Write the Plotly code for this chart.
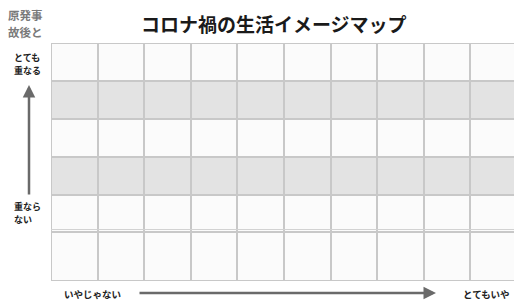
import numpy as np
import plotly.graph_objects as go

# ---- data ----
title_text = "コロナ禍の生活イメージマップ"
corner_label = ["原発事", "故後と"]
y_top_label = ["とても", "重なる"]
y_bottom_label = ["重なら", "ない"]
x_left_label = "いやじゃない"
x_right_label = "とてもいや"

n_columns = 10
# rows listed top to bottom: 1 = grey band, 0 = white
row_shade = [0, 1, 0, 1, 0, 0]
row_heights = [1, 1, 1, 1, 1, 1.28]

# ---- build heatmap grid ----
shade_bottom_up = row_shade[::-1]
heights_bottom_up = row_heights[::-1]
y_edges = np.concatenate([[0], np.cumsum(heights_bottom_up)])
x_edges = np.arange(n_columns + 1)
z = [[s] * n_columns for s in shade_bottom_up]

fig = go.Figure(go.Heatmap(
    z=z, x=x_edges, y=y_edges,
    colorscale=[[0, "#fbfbfb"], [1, "#e3e3e3"]],
    zmin=0, zmax=1, showscale=False, xgap=2, ygap=2,
    hoverinfo="skip",
))

W, H = 514, 302
L, R, T, B = 51, 0, 43, 21
pw, ph = W - L - R, H - T - B


def px(x):
    return (x - L) / pw


def py(y):
    return (H - B - y) / ph


font_family = "Noto Sans CJK JP"


def label(text, x, y, size, color, xanchor="center"):
    return dict(text=f"<b>{text}</b>", x=px(x), y=py(y), xref="paper", yref="paper",
                xanchor=xanchor, yanchor="middle", showarrow=False,
                font=dict(size=size, color=color, family=font_family))


ann = [
    label(title_text, 274, 23, 19, "#1a1a1a"),
    label(x_left_label, 92, 294, 9.5, "#222"),
    label(x_right_label, 486, 294, 9.5, "#222"),
]
for i, t in enumerate(corner_label):
    ann.append(label(t, 6, 15 + 17 * i, 11.5, "#7a7a7a", xanchor="left"))
for i, t in enumerate(y_top_label):
    ann.append(label(t, 12, 57.5 + 13.3 * i, 9, "#222", xanchor="left"))
for i, t in enumerate(y_bottom_label):
    ann.append(label(t, 12, 206 + 13.3 * i, 9, "#222", xanchor="left"))

# arrows
ann.append(dict(text="", x=px(29), y=py(85), xref="paper", yref="paper",
                ax=0, ay=111, showarrow=True, arrowhead=2, arrowsize=1, arrowwidth=2.5,
                arrowcolor="#6a6a6a"))
ann.append(dict(text="", x=px(436), y=py(293), xref="paper", yref="paper",
                ax=-298, ay=0, showarrow=True, arrowhead=2, arrowsize=1, arrowwidth=2.5,
                arrowcolor="#6a6a6a"))

unit_px = ph / y_edges[-1]
shapes = [dict(type="line", xref="paper", yref="y", x0=0, x1=1,
               y0=y_edges[1] + 3 / unit_px, y1=y_edges[1] + 3 / unit_px,
               line=dict(color="#d2d2d2", width=1))]

fig.update_layout(
    width=W, height=H,
    margin=dict(l=L, r=R, t=T, b=B, pad=0),
    paper_bgcolor="#ffffff",
    plot_bgcolor="#c8c8c8",
    xaxis=dict(range=[0, pw / 46.6], showgrid=False, zeroline=False, showticklabels=False,
               ticks="", fixedrange=True),
    yaxis=dict(range=[0, y_edges[-1]], showgrid=False, zeroline=False, showticklabels=False,
               ticks="", fixedrange=True),
    annotations=ann,
    shapes=shapes,
    showlegend=False,
)

fig.write_html("out.html", config={"displayModeBar": False},
               post_script="document.body.style.margin='0';document.body.style.overflow='hidden';")
